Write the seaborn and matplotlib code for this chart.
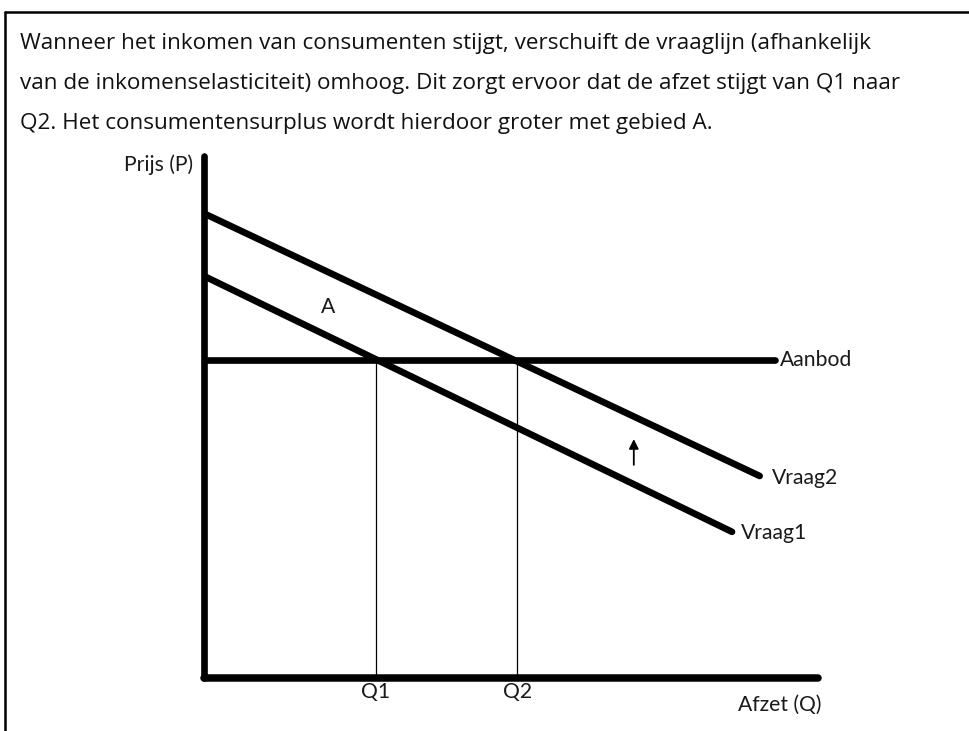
import pandas as pd
import matplotlib
matplotlib.use("Agg")
import matplotlib.pyplot as plt
import seaborn as sns

# demand / supply lines (Q, P), axes 0..100
vraag1_q = [0, 86]
vraag1_p = [77, 28]
vraag2_q = [0, 90.5]
vraag2_p = [89, 38.7]
aanbod_q = [0, 93]
aanbod_p = [61, 61]
q1 = 28
q2 = 51

intro = ["Wanneer het inkomen van consumenten stijgt, verschuift de vraaglijn (afhankelijk",
         "van de inkomenselasticiteit) omhoog. Dit zorgt ervoor dat de afzet stijgt van Q1 naar",
         "Q2. Het consumentensurplus wordt hierdoor groter met gebied A."]

df = pd.concat([
    pd.DataFrame({'Q': vraag1_q, 'P': vraag1_p, 'lijn': 'Vraag1'}),
    pd.DataFrame({'Q': vraag2_q, 'P': vraag2_p, 'lijn': 'Vraag2'}),
    pd.DataFrame({'Q': aanbod_q, 'P': aanbod_p, 'lijn': 'Aanbod'}),
], ignore_index=True)

sns.set_style('white')
plt.rcParams['font.family'] = ['Lato', 'DejaVu Sans']

W, H = 970, 731
fig = plt.figure(figsize=(W / 100, H / 100), dpi=100)

# frame around the whole piece (only top and left visible)
fig.add_artist(plt.Line2D([5 / W, 5 / W], [0, 1 - 12 / H], color='black', lw=1.8))
fig.add_artist(plt.Line2D([5 / W, 1], [1 - 12 / H, 1 - 12 / H], color='black', lw=1.8))

for i, line in enumerate(intro):
    fig.text(20 / W, 1 - (49 + 40 * i) / H, line, ha='left', va='baseline', fontsize=16.2,
             family=['Open Sans', 'DejaVu Sans'], color='#111111')

ax = fig.add_axes([204 / W, (H - 678) / H, (818 - 204) / W, (678 - 156) / H])
sns.lineplot(data=df, x='Q', y='P', hue='lijn', units='lijn', estimator=None,
             palette={'Vraag1': 'black', 'Vraag2': 'black', 'Aanbod': 'black'},
             linewidth=4.8, legend=False, ax=ax, solid_capstyle='round')

for q in (q1, q2):
    p = aanbod_p[0]
    ax.plot([q, q], [0, p], color='black', lw=0.9)

ax.set_xlim(0, 100)
ax.set_ylim(0, 100)
ax.set_xticks([])
ax.set_yticks([])
ax.set_xlabel('')
ax.set_ylabel('')
for s in ('top', 'right'):
    ax.spines[s].set_visible(False)
ax.spines['left'].set_linewidth(4.8)
ax.spines['bottom'].set_linewidth(5.4)
for s in ('left', 'bottom'):
    ax.spines[s].set_capstyle('round')
    ax.spines[s].set_color('black')

lab = dict(fontsize=15.2, color='#1a1a1a', clip_on=False)
ax.text(-1.8, 98.3, 'Prijs (P)', ha='right', va='center', **lab)
ax.text(93.8, aanbod_p[1], 'Aanbod', ha='left', va='center', **lab)
ax.text(92.5, 38.3, 'Vraag2', ha='left', va='center', **lab)
ax.text(87.5, 27.8, 'Vraag1', ha='left', va='center', **lab)
ax.text(q1, -2.7, 'Q1', ha='center', va='center', **lab)
ax.text(q2, -2.7, 'Q2', ha='center', va='center', **lab)
ax.text(93.8, -5.2, 'Afzet (Q)', ha='center', va='center', **lab)
ax.text(20.2, 71.1, 'A', ha='center', va='center', **lab)

ax.annotate('', xy=(70, 46.3), xytext=(70, 40.3),
            arrowprops=dict(arrowstyle='-|>', color='black', lw=1.3, mutation_scale=14))

fig.savefig('out.png', dpi=100, facecolor='white')
